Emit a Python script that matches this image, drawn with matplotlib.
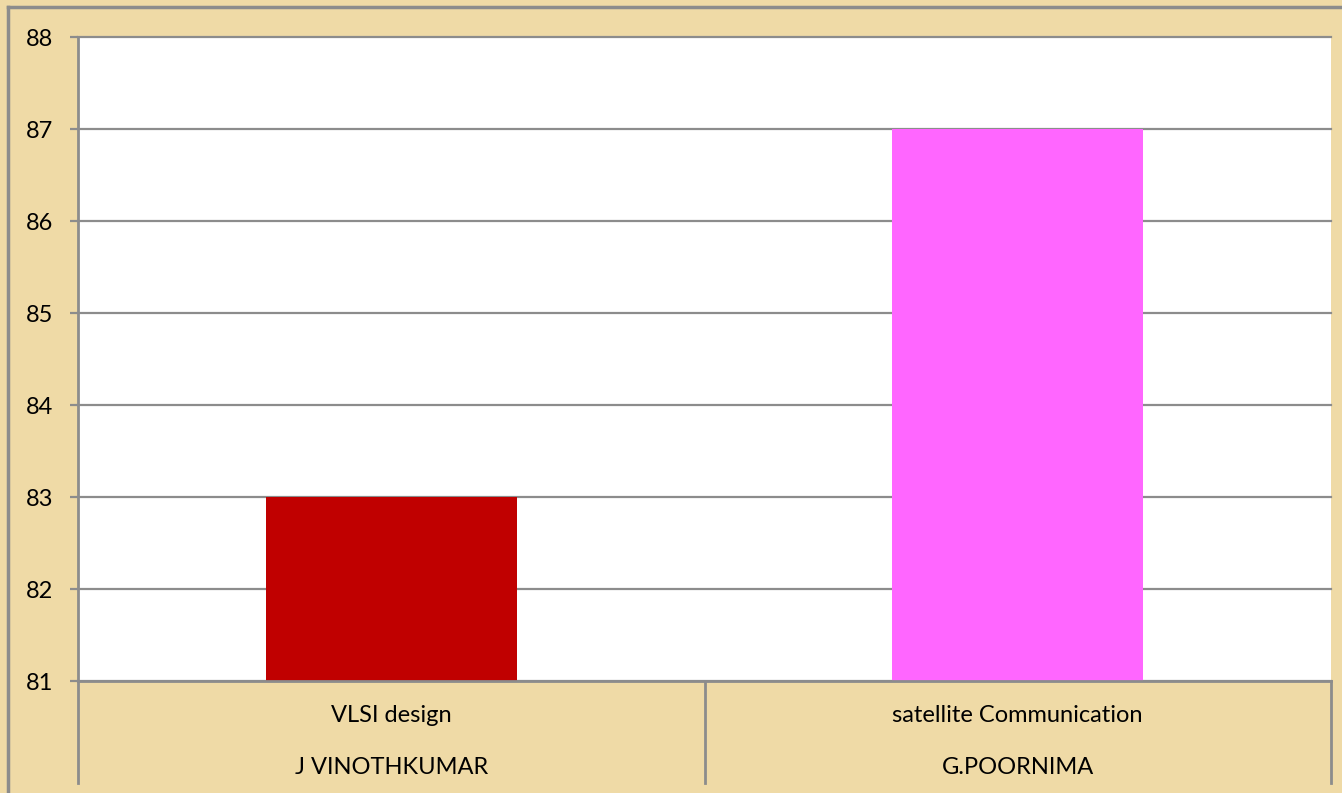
import matplotlib.pyplot as plt
from matplotlib.lines import Line2D

# data
subjects = ['VLSI design', 'satellite Communication']
teachers = ['J VINOTHKUMAR', 'G.POORNIMA']
scores = [83, 87]
bar_colors = ['#C00000', '#FF66FF']
yticks = [81, 82, 83, 84, 85, 86, 87, 88]

W, H = 1342, 793
paper = '#EFDAA6'
grey = '#8C8C8C'

plt.rcParams['font.family'] = ['Lato', 'DejaVu Sans']

fig = plt.figure(figsize=(W / 100, H / 100), dpi=100, facecolor=paper)

# outer frame (top and left edges)
fig.add_artist(Line2D([8 / W, 1], [1 - 7 / H, 1 - 7 / H], color=grey, lw=2.5))
fig.add_artist(Line2D([8 / W, 8 / W], [0, 1 - 7 / H], color=grey, lw=2.5))

left, right, top, bottom = 78, 1331, 37, 681
ax = fig.add_axes([left / W, 1 - bottom / H, (right - left) / W, (bottom - top) / H])
ax.set_facecolor('white')

x = list(range(len(scores)))
ax.bar(x, scores, width=0.4, color=bar_colors, zorder=3)

ax.set_xlim(-0.5, len(scores) - 0.5)
ax.set_ylim(yticks[0], yticks[-1])
ax.set_yticks(yticks)
ax.yaxis.grid(True, color=grey, lw=1.6, zorder=1)
for gl in ax.get_ygridlines():
    gl.set_clip_on(False)
ax.tick_params(axis='y', length=6, width=1.6, color=grey, labelsize=17, pad=12)
ax.set_xticks([])

for s in ['top', 'right']:
    ax.spines[s].set_visible(False)
for s in ['left', 'bottom']:
    ax.spines[s].set_color(grey)
    ax.spines[s].set_linewidth(2)
    ax.spines[s].set_zorder(4)

# multi-level category axis
depth = (783 - bottom) / (bottom - top)
trans = ax.get_xaxis_transform()
for b in [-0.5, 0.5, 1.5]:
    ax.plot([b, b], [0, -depth], color=grey, lw=2, transform=trans, clip_on=False)

y1 = -(715 - bottom) / (bottom - top)
y2 = -(768 - bottom) / (bottom - top)
for i in x:
    ax.text(i, y1, subjects[i], transform=trans, ha='center', va='center', fontsize=17)
    ax.text(i, y2, teachers[i], transform=trans, ha='center', va='center', fontsize=17)

fig.savefig('out.png', dpi=100, facecolor=paper)
